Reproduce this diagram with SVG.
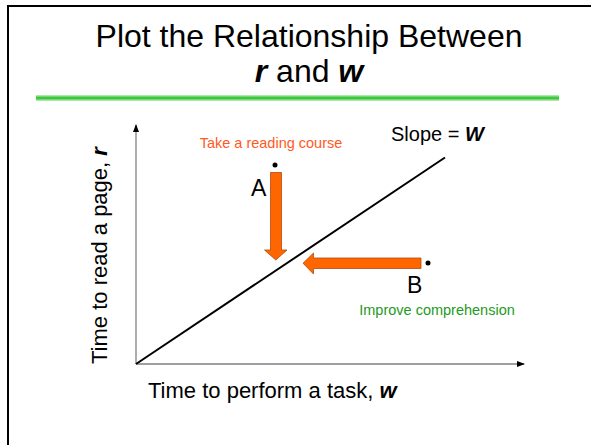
<svg xmlns="http://www.w3.org/2000/svg" width="591" height="445" viewBox="0 0 591 445">
<defs>
<style>
text{font-family:"Liberation Sans",Arial,sans-serif;fill:#000}
.t{font-size:32px;text-anchor:middle}
.ax{font-size:22px}
.lab{font-size:23px}
.note{font-size:14.5px}
.axis{stroke:#808080;stroke-width:1.3;fill:none}
.big{fill:#FF6600;stroke:#B04A10;stroke-width:0.8}
</style>
<linearGradient id="g" x1="0" y1="0" x2="0" y2="1">
<stop offset="0" stop-color="#c8f0c8"/>
<stop offset="0.5" stop-color="#22c022"/>
<stop offset="1" stop-color="#c8f0c8"/>
</linearGradient>
<marker id="ah" markerWidth="8" markerHeight="6" refX="7" refY="3" orient="auto" markerUnits="userSpaceOnUse">
<path d="M0,0 L8,3 L0,6 Z" fill="#000"/>
</marker>
</defs>
<rect x="8" y="6" width="600" height="500" fill="#fff" stroke="#000" stroke-width="2"/>
<g id="title">
<text class="t" x="309" y="47">Plot the Relationship Between</text>
<text class="t" x="309" y="82"><tspan font-weight="bold" font-style="italic">r</tspan> and <tspan font-weight="bold" font-style="italic">w</tspan></text>
<rect x="36" y="95" width="523" height="6" fill="url(#g)"/>
</g>
<g id="connectors">
<line class="axis" x1="136" y1="364" x2="136" y2="125" marker-end="url(#ah)"/>
<line class="axis" x1="136" y1="364" x2="524" y2="364" marker-end="url(#ah)"/>
<line x1="136" y1="364" x2="445" y2="157.5" stroke="#000" stroke-width="2"/>
<path id="arrowA" class="big" d="M270.5,172.5 H281.5 V250 H287 L275.8,260 L264.5,250 H270.5 Z"/>
<path id="arrowB" class="big" d="M421,258 V268.5 H313.5 V274 L303,263.2 L313.5,253 V258 Z"/>
</g>
<g id="axis-labels">
<text class="ax" transform="translate(107,364) rotate(-90)">Time to read a page, <tspan font-weight="bold" font-style="italic">r</tspan></text>
<text class="ax" x="148" y="398">Time to perform a task, <tspan font-weight="bold" font-style="italic">w</tspan></text>
</g>
<g id="slope">
<text class="ax" x="391" y="141" style="font-size:20px">Slope = <tspan font-weight="bold" font-style="italic">W</tspan></text>
</g>
<g id="pointA">
<circle cx="275" cy="165" r="2.5" fill="#000"/>
<text class="lab" x="251" y="196">A</text>
<text class="note" x="271" y="148" text-anchor="middle" style="fill:#FF5A1E">Take a reading course</text>
</g>
<g id="pointB">
<circle cx="428" cy="263" r="2.5" fill="#000"/>
<text class="lab" x="407" y="293">B</text>
<text class="note" x="437" y="315" text-anchor="middle" style="fill:#1E9A1E">Improve comprehension</text>
</g>
</svg>
